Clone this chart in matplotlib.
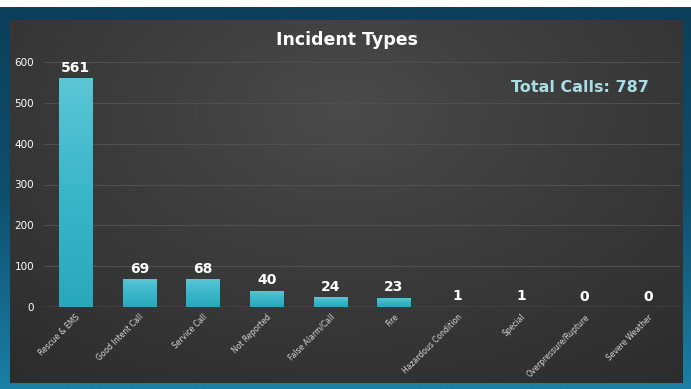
import matplotlib
matplotlib.use("Agg")
import matplotlib.pyplot as plt
import numpy as np
from matplotlib.colors import LinearSegmentedColormap

categories = ["Rescue & EMS", "Good Intent Call", "Service Call", "Not Reported",
              "False Alarm/Call", "Fire", "Hazardous Condition", "Special",
              "Overpressure/Rupture", "Severe Weather"]
values = [561, 69, 68, 40, 24, 23, 1, 1, 0, 0]
yticks = [0, 100, 200, 300, 400, 500, 600]
title = "Incident Types"
total_label = "Total Calls: 787"

W, H = 691, 389
fig = plt.figure(figsize=(W / 100, H / 100), dpi=100)
fig.patch.set_facecolor("white")

# outer blue frame
frame = fig.add_axes([0, 0, 1, 1 - 7 / H])
grad = np.linspace(0, 1, 256).reshape(-1, 1)
blue_cmap = LinearSegmentedColormap.from_list("b", ["#1b7fa6", "#0f4f6e", "#0c3f5a"])
frame.imshow(grad, aspect="auto", cmap=blue_cmap, extent=[0, 1, 0, 1], origin="lower")
frame.set_axis_off()

# dark panel
px0, px1, py0, py1 = 10, 683, 20, 383
panel = fig.add_axes([px0 / W, 1 - py1 / H, (px1 - px0) / W, (py1 - py0) / H])
yy, xx = np.mgrid[0:1:200j, 0:1:200j]
r = np.sqrt(((xx - 0.5) * 1.2) ** 2 + ((yy - 0.75) * 1.0) ** 2)
gray_cmap = LinearSegmentedColormap.from_list("g", ["#4a4a4a", "#3a3a3a", "#2c2c2c"])
panel.imshow(r, aspect="auto", cmap=gray_cmap, extent=[0, 1, 0, 1], origin="lower")
panel.set_axis_off()

# plot axes
ax0, ax1, ay0, ay1 = 44, 680, 62, 307
ax = fig.add_axes([ax0 / W, 1 - ay1 / H, (ax1 - ax0) / W, (ay1 - ay0) / H])
ax.patch.set_alpha(0)
x = np.arange(len(categories))
bars = ax.bar(x, values, width=0.52, color="#3ab6c9", zorder=3)
bar_cmap = LinearSegmentedColormap.from_list("c", ["#2aa8bb", "#3ab6c9", "#5cc6d6"])
for b in bars:
    if b.get_height() <= 0:
        continue
    x0b, wb, hb = b.get_x(), b.get_width(), b.get_height()
    im = ax.imshow(grad, aspect="auto", cmap=bar_cmap, origin="lower",
                   extent=[x0b, x0b + wb, 0, max(hb, 1)], zorder=3.5)
    im.set_clip_path(b)
for xi, v in zip(x, values):
    ax.text(xi, v + 8, str(v), ha="center", va="bottom", color="white",
            fontsize=10, fontweight="bold", zorder=4)
ax.set_xlim(-0.5, len(categories) - 0.5)
ax.set_ylim(0, 600)
ax.set_yticks(yticks)
ax.set_yticklabels([str(t) for t in yticks], color="white", fontsize=7.5)
ax.tick_params(axis="y", length=0, pad=7)
ax.tick_params(axis="x", length=0, pad=4)
ax.set_xticks(x)
ax.set_xticklabels(categories, rotation=45, ha="right", rotation_mode="anchor",
                   color="#d8d8d8", fontsize=5.5)
for s in ax.spines.values():
    s.set_visible(False)
ax.grid(axis="y", color="#505050", linewidth=0.8, zorder=0)
ax.axhline(0, color="#6a6a6a", linewidth=1, zorder=2)

fig.text(347 / W, 1 - 40 / H, title, ha="center", va="center", color="white",
         fontsize=12.5, fontweight="bold")
fig.text(580 / W, 1 - 87 / H, total_label, ha="center", va="center", color="#a9dde6",
         fontsize=11.5, fontweight="bold")

fig.savefig("out.png", dpi=100, facecolor=fig.get_facecolor())
